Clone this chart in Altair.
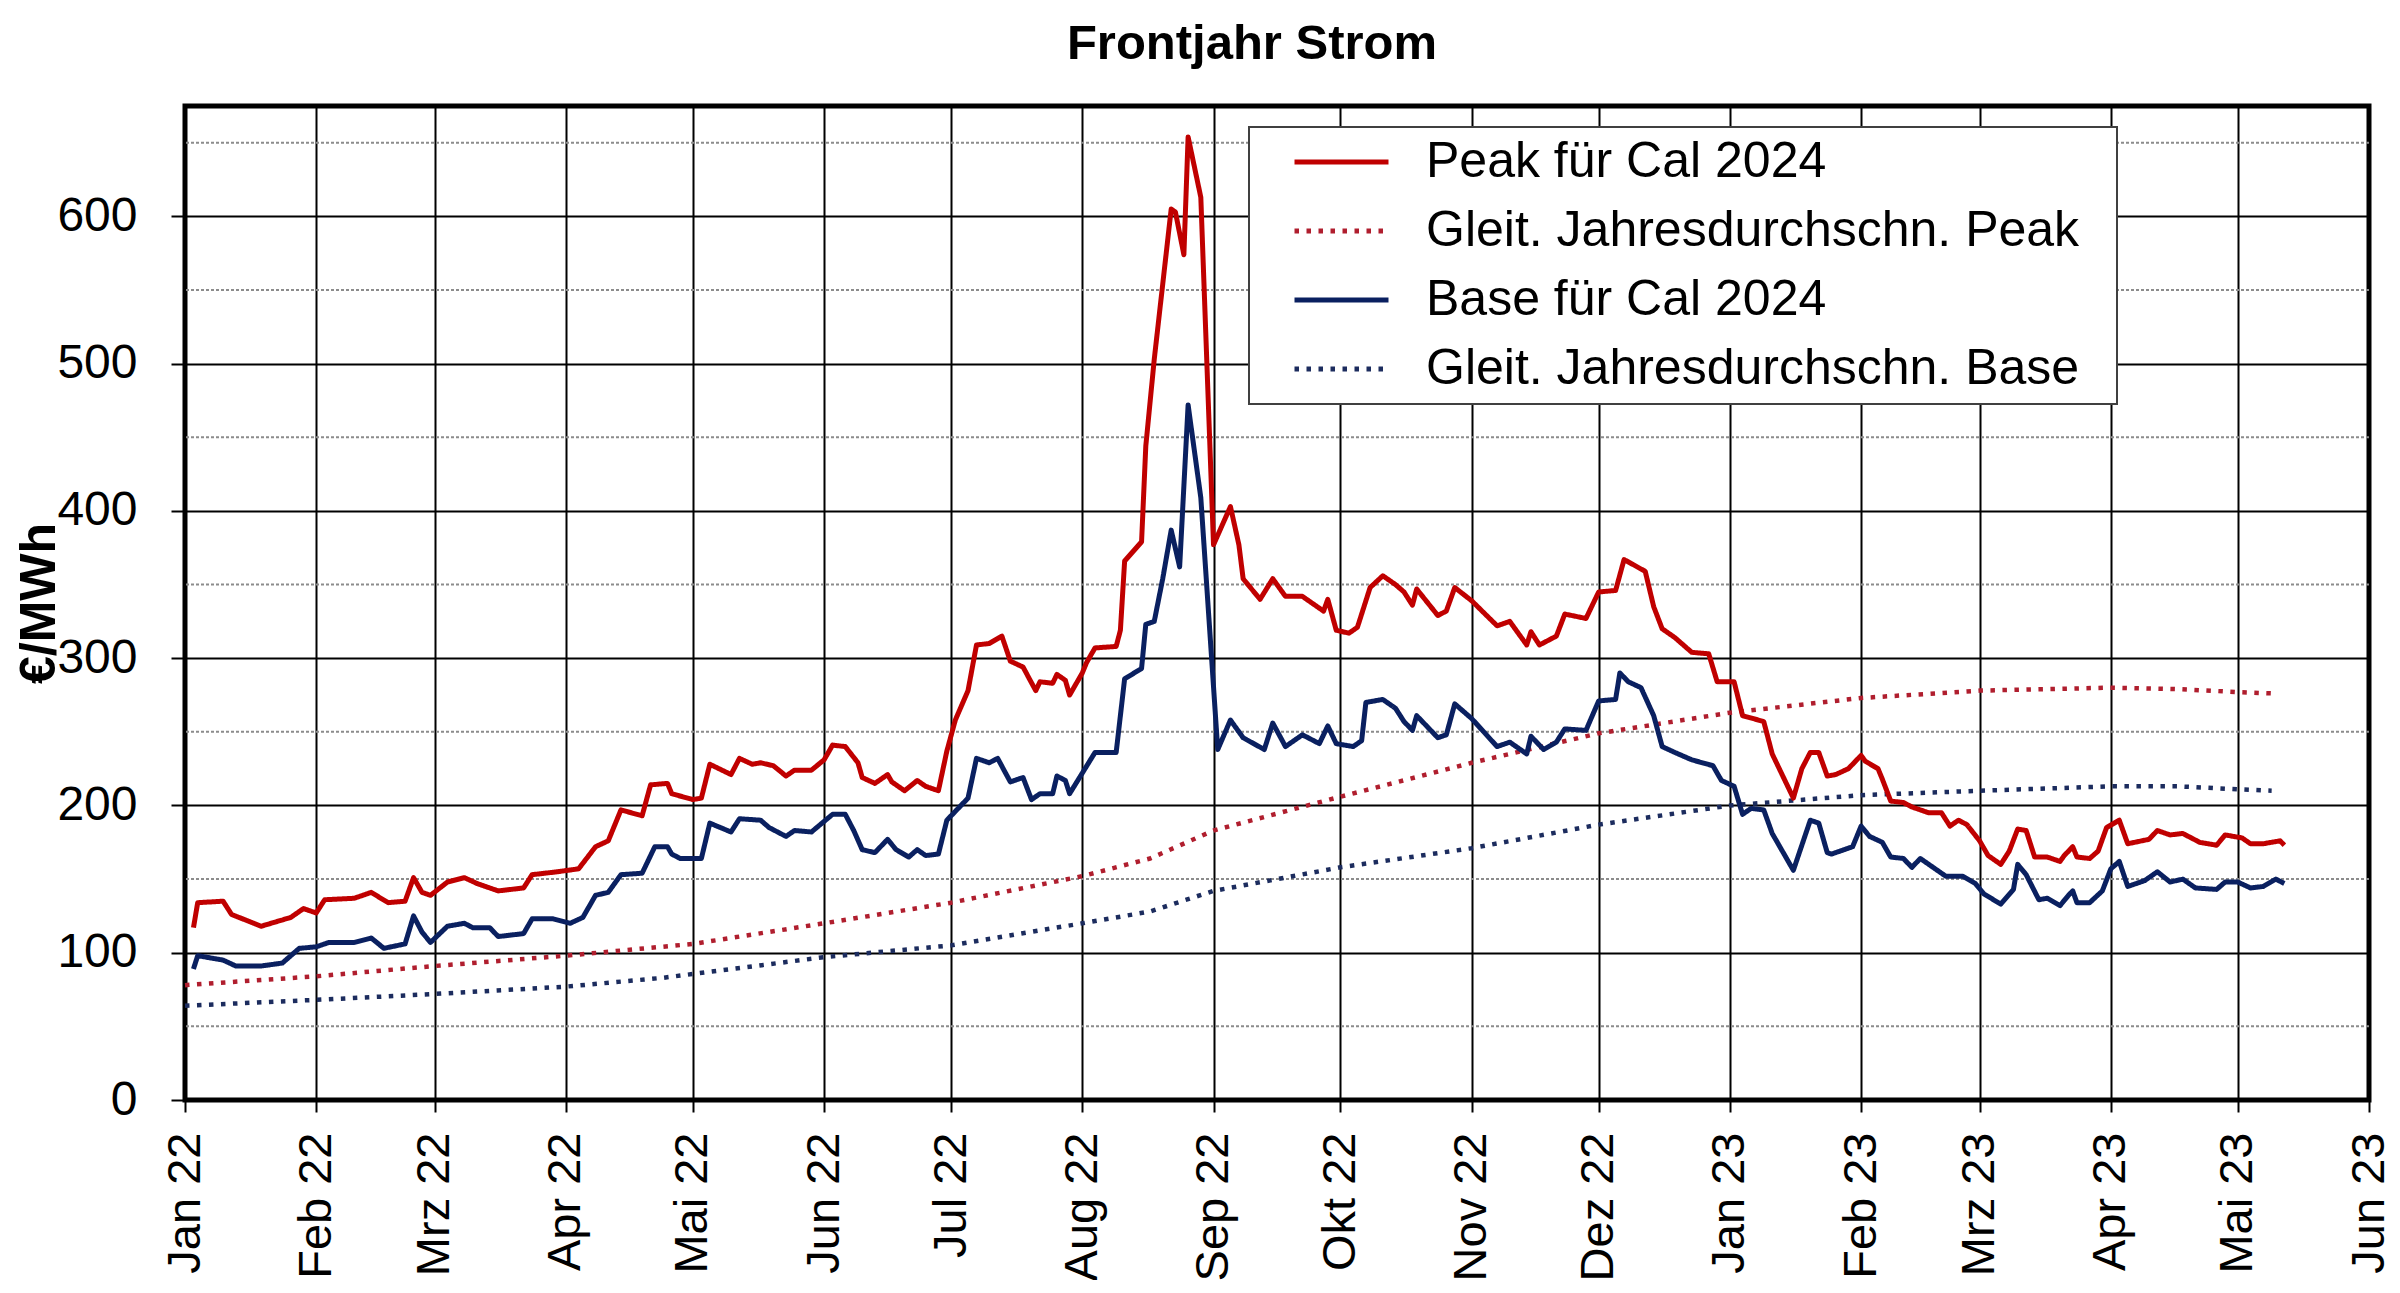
import json
import altair as alt
import pandas as pd

# ---------------- data ----------------
month_names = ["Jan", "Feb", "Mrz", "Apr", "Mai", "Jun", "Jul", "Aug", "Sep", "Okt", "Nov", "Dez"]
series_names = ["Peak für Cal 2024", "Gleit. Jahresdurchschn. Peak",
                "Base für Cal 2024", "Gleit. Jahresdurchschn. Base"]
series_colors = ["#C00000", "#B01E2E", "#0A2060", "#1C2C5E"]

# [days since 2022-01-01, €/MWh]
peak = [[2,117],[3,134],[9,135],[11,126],[18,118],[25,124],[28,130],[31,127],[33,136],[40,137],
        [44,141],[48,134],[52,135],[54,151],[56,141],[58,139],[62,148],[66,151],[69,147],[74,142],
        [80,144],[82,153],[88,155],[93,157],[97,172],[100,176],[103,197],[108,193],[110,214],[114,215],
        [115,208],[120,204],[122,205],[124,228],[129,221],[131,232],[134,228],[136,229],[139,227],[142,220],
        [144,224],[148,224],[151,231],[153,241],[156,240],[159,229],[160,219],[163,215],[166,221],[167,216],
        [170,210],[173,217],[175,213],[178,210],[180,237],[182,258],[185,278],[187,309],[190,310],[193,315],
        [195,298],[198,294],[201,278],[202,284],[205,283],[206,289],[208,285],[209,275],[212,290],[213,297],
        [215,307],[220,308],[221,319],[222,366],[226,379],[227,444],[229,503],[233,605],[234,603],[236,574],
        [237,654],[240,613],[243,377],[247,403],[249,377],[250,354],[254,340],[257,354],[260,342],[264,342],
        [269,332],[270,340],[272,319],[275,317],[277,321],[280,348],[283,356],[286,350],[288,345],[290,336],
        [291,347],[296,329],[298,332],[300,348],[304,339],[310,322],[313,325],[317,309],[318,318],[320,309],
        [324,315],[326,330],[331,327],[334,345],[338,346],[340,367],[345,359],[347,335],[349,320],[352,314],
        [356,304],[360,303],[362,284],[366,284],[368,261],[373,257],[375,235],[380,205],[382,225],[384,236],
        [386,236],[388,220],[390,221],[393,225],[396,234],[397,230],[400,225],[401,218],[403,203],[406,202],
        [408,199],[412,195],[415,195],[417,186],[419,190],[421,187],[424,176],[426,166],[429,160],[431,169],
        [433,184],[435,183],[437,165],[440,165],[443,162],[444,166],[446,172],[447,165],[450,164],[452,169],
        [454,185],[457,190],[459,174],[464,177],[466,183],[469,180],[472,181],[476,175],[480,173],[482,180],
        [486,178],[488,174],[491,174],[495,176],[496,173]]

base = [[2,89],[3,98],[9,95],[12,91],[18,91],[23,93],[27,103],[31,104],[34,107],[40,107],
        [44,110],[47,103],[52,106],[54,125],[56,114],[58,107],[62,118],[66,120],[68,117],[72,117],
        [74,111],[80,113],[82,123],[87,123],[91,120],[94,124],[97,139],[100,141],[103,153],[108,154],
        [111,172],[114,172],[115,167],[117,164],[122,164],[124,188],[129,182],[131,191],[136,190],[138,185],
        [142,179],[144,183],[148,182],[153,194],[156,194],[158,183],[160,170],[163,168],[166,177],[168,170],
        [171,165],[173,170],[175,166],[178,167],[180,190],[182,196],[185,205],[187,232],[190,229],[192,232],
        [195,216],[198,219],[200,204],[202,208],[205,208],[206,220],[208,217],[209,208],[212,222],[215,236],
        [220,236],[222,286],[226,293],[227,323],[229,325],[231,354],[233,387],[235,362],[237,472],[240,409],
        [244,238],[247,258],[250,246],[255,238],[257,256],[260,240],[264,248],[268,242],[270,254],[272,242],
        [276,240],[278,244],[279,270],[283,272],[286,266],[288,257],[290,251],[291,261],[296,246],[298,248],
        [300,269],[304,259],[310,240],[313,243],[317,235],[318,247],[321,238],[324,243],[326,252],[331,251],
        [334,271],[338,272],[339,290],[341,284],[344,280],[347,261],[349,240],[352,236],[356,231],[361,227],
        [363,217],[366,213],[368,194],[370,198],[373,197],[375,181],[380,156],[384,190],[386,188],[388,168],
        [389,167],[394,172],[396,186],[398,179],[401,175],[403,165],[406,164],[408,158],[410,164],[413,158],
        [416,152],[420,152],[423,147],[425,140],[429,133],[432,143],[433,160],[435,153],[438,136],[440,137],
        [443,132],[445,139],[446,142],[447,134],[450,134],[453,142],[455,157],[457,162],[459,145],[463,149],
        [466,155],[469,148],[472,150],[475,144],[480,143],[482,148],[485,148],[488,144],[491,145],[494,150],
        [496,147]]

peak_ma = [[0,78],[31,84],[59,91],[90,98],[120,106],[151,120],[181,134],[212,152],[228,164],[243,183],
           [273,206],[304,229],[334,249],[365,263],[396,273],[424,278],[455,280],[471,279],[485,277],[494,276]]

base_ma = [[0,64],[31,68],[59,72],[90,77],[113,83],[151,97],[181,105],[212,120],[228,128],[243,142],
           [273,158],[304,171],[334,187],[365,200],[396,207],[424,210],[455,213],[471,213],[485,211],[493,210]]

y_major = [0, 100, 200, 300, 400, 500, 600]
y_minor = [50, 150, 250, 350, 450, 550, 650]

# ---------------- build tables ----------------
start = pd.Timestamp("2022-01-01")


def frame(pairs, name):
    days = [p[0] for p in pairs]
    vals = [p[1] for p in pairs]
    return pd.DataFrame({
        "date": start + pd.to_timedelta(days, unit="D"),
        "value": vals,
        "series": name,
    })


main_df = pd.concat([frame(peak, series_names[0]), frame(base, series_names[2])], ignore_index=True)
ma_df = pd.concat([frame(peak_ma, series_names[1]), frame(base_ma, series_names[3])], ignore_index=True)
minor_df = pd.DataFrame({"value": y_minor})

FONT = "Liberation Sans"

month_ticks = []
for yr in (2022, 2023):
    for m in range(1, 13):
        if yr == 2023 and m > 6:
            break
        month_ticks.append(alt.DateTime(year=yr, month=m, date=1))

label_expr = json.dumps(month_names) + "[month(datum.value)] + ' ' + timeFormat(datum.value, '%y')"

x_enc = alt.X(
    "date:T",
    scale=alt.Scale(domain=[alt.DateTime(year=2022, month=1, date=1),
                            alt.DateTime(year=2023, month=6, date=1)]),
    axis=alt.Axis(values=month_ticks, labelExpr=label_expr, labelAngle=-90, title=None,
                  grid=True, gridColor="black", gridWidth=2,
                  ticks=True, tickColor="black", tickWidth=2, tickSize=12,
                  labelPadding=20, labelFontSize=47, labelFont=FONT, labelColor="black",
                  labelFlush=False, labelOverlap=False, labelBound=False, domain=False),
)

y_scale = alt.Scale(domain=[0, 675], nice=False, zero=True)
y_axis = alt.Axis(values=y_major, title="€/MWh", titleFont=FONT, titleFontSize=50,
                  titleFontWeight="bold", titleColor="black", titlePadding=-8,
                  labelFont=FONT, labelFontSize=48, labelColor="black", labelPadding=34,
                  tickSize=14, tickColor="black", tickWidth=2,
                  grid=True, gridColor="black", gridWidth=2, domain=False)
y_enc = alt.Y("value:Q", scale=y_scale, axis=y_axis)

legend = alt.Legend(
    title="\u00a0", titleOrient="right", titleFontSize=20, titlePadding=28,
    orient="none", legendX=1064, legendY=21,
    fillColor="white", strokeColor="#404040", padding=10,
    symbolType="stroke", symbolSize=8836, symbolStrokeWidth=5, symbolOffset=33,
    labelFont=FONT, labelFontSize=50, labelColor="black", labelOffset=35, labelLimit=1500,
    clipHeight=50, rowPadding=19,
)

color_enc = alt.Color("series:N", scale=alt.Scale(domain=series_names, range=series_colors), legend=legend)
dash_enc = alt.StrokeDash("series:N",
                          scale=alt.Scale(domain=series_names,
                                          range=[[1, 0], [4.5, 7.5], [1, 0], [4.5, 7.5]]),
                          legend=legend)

minor_grid = alt.Chart(minor_df).mark_rule(color="#8c8c8c", strokeWidth=2, strokeDash=[3, 2]).encode(
    y=y_enc
)

ma_lines = alt.Chart(ma_df).mark_line(strokeWidth=4.5, strokeCap="butt").encode(
    x=x_enc, y=y_enc, color=color_enc, strokeDash=dash_enc, detail="series:N"
)

main_lines = alt.Chart(main_df).mark_line(strokeWidth=5, strokeJoin="round").encode(
    x=x_enc, y=y_enc, color=color_enc, strokeDash=dash_enc, detail="series:N"
)

chart = alt.layer(minor_grid, ma_lines, main_lines).properties(
    width=2184, height=994,
    autosize=alt.AutoSizeParams(type="none"),
    padding={"left": 177, "top": 98, "right": 23, "bottom": 180},
    background="white",
    title=alt.Title("Frontjahr Strom", font=FONT, fontSize=49, fontWeight="bold", color="black",
                    anchor="middle", frame="group", dx=-25, dy=48, offset=46, baseline="alphabetic"),
).configure_view(
    stroke="black", strokeWidth=5
).configure_legend(
    strokeWidth=2
)

chart.save("out.html", embed_options={"renderer": "svg", "actions": False})
